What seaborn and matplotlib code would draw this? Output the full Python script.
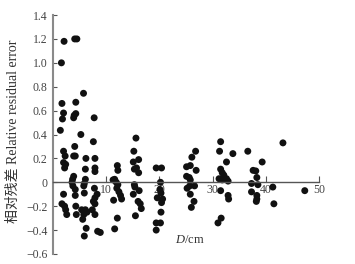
import numpy as np
import pandas as pd
import matplotlib
matplotlib.use("Agg")
import matplotlib.pyplot as plt
import seaborn as sns

# Diameter (cm) and relative residual error
DIAM = [
    1.6, 2.1, 4.1, 4.5, 5.75, 1.7, 4.3, 2.0, 4.3, 4.0, 3.9, 1.8, 7.75,
    1.4, 5.25, 7.6, 4.1, 2.0, 2.3, 3.9, 4.2, 6.2, 7.9, 2.0, 2.4, 2.2,
    6.1, 7.9, 7.9, 3.9, 3.7, 3.6, 3.75, 6.1, 5.9, 5.8, 4.2, 4.2, 2.0,
    5.9, 7.8, 8.3, 7.9, 7.6, 7.9, 1.7, 2.2, 2.4, 4.3, 5.4, 6.1, 6.4,
    5.8, 7.4, 4.4, 2.6, 7.9, 5.6, 6.25, 5.9, 8.4, 8.9,
    11.6, 11.9, 12.2, 12.0, 12.4, 12.7, 12.9, 11.3, 12.1, 12.2, 11.4, 12.1, 11.6,
    15.6, 15.2, 15.1, 16.1, 15.3, 15.7, 16.1, 15.3, 15.4, 15.1, 16.2, 16.0, 16.4, 16.6, 15.5,
    19.4, 20.4, 20.2, 20.1, 20.3, 19.6, 20.6, 20.4, 20.3, 19.4, 20.2, 19.4,
    26.8, 26.1, 25.8, 25.1, 26.9, 25.1, 25.6, 25.8, 25.2, 25.7, 26.6, 25.8, 26.5, 26.0,
    31.5, 31.3, 33.8, 32.6, 31.5, 31.8, 32.1, 31.2, 31.8, 32.6, 32.9, 31.5, 32.9, 33.0, 31.6, 31.0,
    36.6, 39.3, 37.6, 38.1, 38.3, 37.3, 38.5, 37.3, 38.3, 38.3, 38.2, 41.3, 41.5, 43.2, 47.3,
]
RESID = [
    1.00, 1.18, 1.20, 1.20, 0.745, 0.66, 0.67, 0.58, 0.575, 0.56, 0.54, 0.53, 0.54,
    0.435, 0.40, 0.34, 0.30, 0.26, 0.22, 0.22, 0.22, 0.20, 0.20, 0.165, 0.15, 0.12,
    0.11, 0.12, 0.09, 0.05, 0.025, 0.0, -0.03, 0.025, -0.01, -0.03, -0.06, -0.11, -0.10,
    -0.09, -0.05, -0.10, -0.13, -0.16, -0.18, -0.18, -0.20, -0.23, -0.20, -0.23, -0.23, -0.25,
    -0.27, -0.23, -0.27, -0.27, -0.27, -0.31, -0.385, -0.45, -0.41, -0.42,
    0.025, 0.0, -0.02, -0.05, -0.08, -0.11, -0.14, 0.02, 0.14, 0.10, -0.15, -0.30, -0.39,
    0.37, 0.26, 0.17, 0.19, 0.11, 0.12, 0.08, -0.02, -0.04, -0.10, -0.07, -0.16, -0.18, -0.22, -0.28,
    0.12, 0.12, 0.0, -0.06, -0.09, -0.13, -0.14, -0.17, -0.25, -0.34, -0.34, -0.40,
    0.26, 0.21, 0.14, 0.13, 0.10, 0.05, 0.04, 0.02, -0.05, -0.03, -0.03, -0.10, -0.16, -0.21,
    0.34, 0.26, 0.24, 0.17, 0.11, 0.08, 0.06, 0.03, 0.02, 0.03, 0.01, -0.07, -0.11, -0.14, -0.30, -0.34,
    0.26, 0.17, 0.10, 0.095, 0.04, -0.01, -0.02, -0.08, -0.11, -0.14, -0.16, -0.04, -0.18, 0.33, -0.07,
]
X_TICKS = [10, 20, 30, 40, 50]
Y_TICKS = [-0.6, -0.4, -0.2, 0, 0.2, 0.4, 0.6, 0.8, 1.0, 1.2, 1.4]
Y_LABELS = ["\u22120.6", "\u22120.4", "\u22120.2", "0", "0.2", "0.4", "0.6", "0.8", "1.0", "1.2", "1.4"]

df = pd.DataFrame({"D": DIAM, "resid": RESID})

sns.set_theme(style="white")
plt.rcParams['font.family'] = ['Liberation Serif', 'Noto Sans CJK SC']
plt.rcParams['mathtext.fontset'] = 'custom'
plt.rcParams['mathtext.it'] = 'Liberation Serif:italic'
plt.rcParams['mathtext.rm'] = 'Liberation Serif'

fig = plt.figure(figsize=(3.55, 2.64), dpi=100)
ax = fig.add_axes([0.149, 0.038, 0.750, 0.905])

sns.scatterplot(data=df, x="D", y="resid", ax=ax, color="#111111",
                s=25, edgecolor="none", linewidth=0, legend=False)

ax.set_xlim(0, 50)
ax.set_ylim(-0.6, 1.4)

# spines: left axis plus a horizontal axis through zero
ax.spines['top'].set_visible(False)
ax.spines['right'].set_visible(False)
ax.spines['bottom'].set_position(('data', 0))
ax.spines['left'].set_color('#8a8a8a')
ax.spines['left'].set_linewidth(1.5)
ax.spines['bottom'].set_color('#555555')
ax.spines['bottom'].set_linewidth(1.0)

ax.set_xticks(X_TICKS)
ax.set_xticklabels([str(t) for t in X_TICKS])
ax.set_yticks(Y_TICKS)
ax.set_yticklabels(Y_LABELS)
ax.tick_params(axis='x', direction='in', length=4, width=0.8, color='#555555',
               labelsize=8.5, pad=1, labelcolor='#444444')
ax.tick_params(axis='y', direction='in', length=3, width=0.8, color='#555555',
               labelsize=8.5, pad=4, labelcolor='#444444')
ax.tick_params(bottom=True, left=True)

ax.set_xlabel(r'$\mathit{D}$/cm', fontsize=9, color='#333333')
ax.xaxis.set_label_coords(0.515, 0.085)
ax.set_ylabel('相对残差 Relative residual error', fontsize=10, color='#333333')
ax.yaxis.set_label_coords(-0.125, 0.515)

fig.savefig("out.png", dpi=100)
